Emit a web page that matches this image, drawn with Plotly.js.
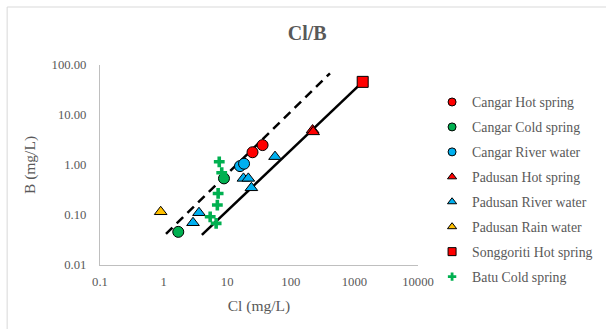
<!DOCTYPE html>
<html>
<head>
<script src="https://cdn.plot.ly/plotly-3.0.1.min.js"></script>
<style>html,body{margin:0;padding:0;background:#fff;}#chart{width:606px;height:329px;}</style>
</head>
<body>
<div id="chart"></div>
<script>
// Data (Cl mg/L, B mg/L)
const cangarHotCl = [25, 36];
const cangarHotB = [1.8, 2.5];
const cangarColdCl = [1.7, 8.9];
const cangarColdB = [0.046, 0.54];
const cangarRiverCl = [15.9, 18.4];
const cangarRiverB = [0.95, 1.06];
const padusanHotCl = [220, 225];
const padusanHotB = [5.0, 4.6];
const padusanRiverCl = [2.9, 3.6, 18, 21.5, 24, 56.5];
const padusanRiverB = [0.070, 0.111, 0.54, 0.54, 0.35, 1.47];
const padusanRainCl = [0.9];
const padusanRainB = [0.116];
const songgoritiCl = [1350];
const songgoritiB = [46];
const batuCl = [7.5, 8.2, 7.2, 7.0, 5.4, 6.7];
const batuB = [1.16, 0.70, 0.27, 0.158, 0.092, 0.068];
const solidLineCl = [4.0, 1350];
const solidLineB = [0.04, 46];
const dashLineCl = [1.09, 413];
const dashLineB = [0.042, 68];
const xTickVals = [0.1, 1, 10, 100, 1000, 10000];
const xTickText = ['0.1', '1', '10', '100', '1000', '10000'];
const yTickVals = [0.01, 0.1, 1, 10, 100];
const yTickText = ['0.01', '0.10', '1.00', '10.00', '100.00'];

const serif = 'Liberation Serif';

function series(name, x, y, symbol, color, group, lineOn) {
  const big = symbol === 'cross' ? 9 : 11;
  const small = symbol === 'cross' ? 7 : 8;
  return [
    {type: 'scatter', mode: 'markers', name: name, x: x, y: y, legendgroup: group, showlegend: false,
     marker: {symbol: symbol, color: color, size: big, line: {color: '#000', width: lineOn ? 1 : 0}}},
    {type: 'scatter', mode: 'markers', name: name, x: [null], y: [null], legendgroup: group, showlegend: true,
     marker: {symbol: symbol, color: color, size: small, line: {color: '#000', width: lineOn ? 1 : 0}}}
  ];
}
const traces = [
  {type: 'scatter', mode: 'lines', x: solidLineCl, y: solidLineB, showlegend: false,
   line: {color: '#000', width: 2.5}, hoverinfo: 'skip'},
  {type: 'scatter', mode: 'lines', x: dashLineCl, y: dashLineB, showlegend: false,
   line: {color: '#000', width: 2.5, dash: '9px,6px'}, hoverinfo: 'skip'}
].concat(
  series('Cangar Hot spring', cangarHotCl, cangarHotB, 'circle', '#ff0000', 'g1', true),
  series('Cangar Cold spring', cangarColdCl, cangarColdB, 'circle', '#00b050', 'g2', true),
  series('Cangar River water', cangarRiverCl, cangarRiverB, 'circle', '#00b0f0', 'g3', true),
  series('Padusan Hot spring', padusanHotCl, padusanHotB, 'triangle-up', '#ff0000', 'g4', true),
  series('Padusan River water', padusanRiverCl, padusanRiverB, 'triangle-up', '#00b0f0', 'g5', true),
  series('Padusan Rain water', padusanRainCl, padusanRainB, 'triangle-up', '#ffc000', 'g6', true),
  series('Songgoriti Hot spring', songgoritiCl, songgoritiB, 'square', '#ff0000', 'g7', true),
  series('Batu Cold spring', batuCl, batuB, 'cross', '#00b050', 'g8', false)
);
const layout = {
  width: 606, height: 329,
  margin: {l: 100, r: 188, t: 65, b: 64},
  paper_bgcolor: '#fff', plot_bgcolor: '#fff',
  font: {family: serif, color: '#595959', size: 12},
  title: {text: '<b>Cl/B</b>', x: 0.507, xref: 'container', y: 0.9, yref: 'container',
    xanchor: 'center', yanchor: 'middle',
    font: {family: serif, size: 20, color: '#595959'}},
  xaxis: {type: 'log', range: [-1, 4], tickvals: xTickVals, ticktext: xTickText,
    showgrid: false, zeroline: false, showline: true, linecolor: '#bfbfbf', linewidth: 1,
    ticks: '', ticklen: 0, ticklabelstandoff: 5, tickfont: {family: serif, size: 12.7, color: '#595959'},
    title: {text: 'Cl (mg/L)', standoff: 11, font: {family: serif, size: 15.5, color: '#595959'}}},
  yaxis: {type: 'log', range: [-2, 2], tickvals: yTickVals, ticktext: yTickText,
    showgrid: false, zeroline: false, showline: true, linecolor: '#bfbfbf', linewidth: 1,
    ticks: '', ticklen: 0, ticklabelstandoff: 10, tickfont: {family: serif, size: 12.7, color: '#595959'},
    title: {text: 'B (mg/L)', standoff: 12, font: {family: serif, size: 15.5, color: '#595959'}}},
  legend: {xref: 'container', yref: 'container', x: 0.713, xanchor: 'left', y: 0.737, yanchor: 'top',
    traceorder: 'grouped', tracegroupgap: 4, itemwidth: 30, maxheight: 300,
    font: {family: serif, size: 13.8, color: '#595959'}, bgcolor: 'rgba(0,0,0,0)'},
  shapes: [{type: 'rect', xref: 'paper', yref: 'paper', x0: -0.292, x1: 2.2, y0: -0.7, y1: 1.29,
    line: {color: '#d9d9d9', width: 1}}]
};
Plotly.newPlot('chart', traces, layout, {staticPlot: true, displayModeBar: false});
</script>
</body>
</html>
